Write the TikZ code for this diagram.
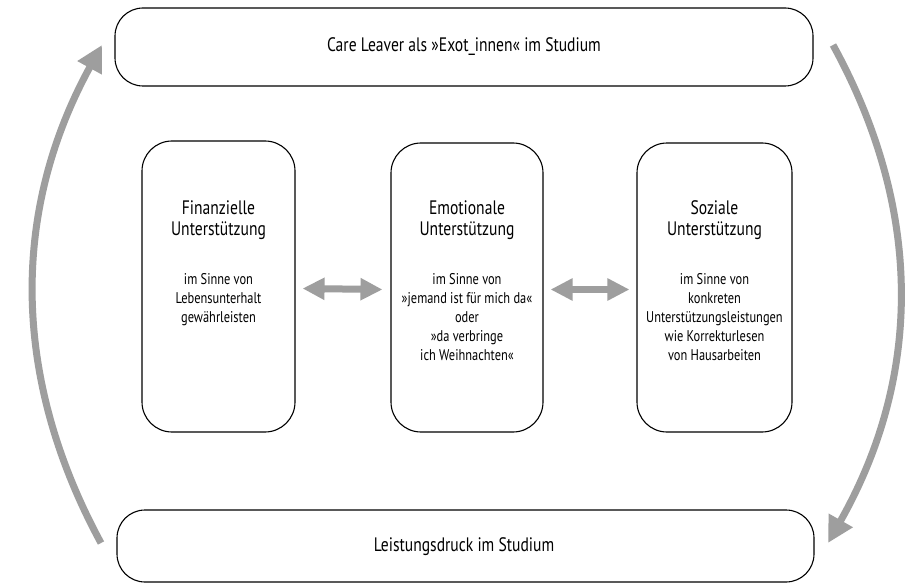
\documentclass[tikz,border=0pt]{standalone}
\usepackage{fontspec}
\setmainfont[FakeStretch=0.8]{PT Sans}
\usetikzlibrary{arrows.meta}
\tikzset{
  bigbox/.style={draw=black, line width=1.1pt, rounded corners=28pt, fill=white},
  colbox/.style={draw=black, line width=1.1pt, rounded corners=30pt, fill=white},
  cyclearrow/.style={draw=arrowgray, line width=7pt, -{Triangle[length=26pt,width=26pt]}},
  duoarrow/.style={draw=arrowgray, line width=7pt, {Triangle[length=22pt,width=21pt]}-{Triangle[length=22pt,width=21pt]}},
  headtxt/.style={align=center, font=\fontsize{19.5pt}{20.5pt}\selectfont, inner sep=0pt},
  bodytxt/.style={align=center, font=\fontsize{15.5pt}{19pt}\selectfont, inner sep=0pt, anchor=north},
  titletxt/.style={font=\fontsize{19.5pt}{20pt}\selectfont, inner sep=0pt}
}
\definecolor{arrowgray}{gray}{0.62}
\begin{document}
\begin{tikzpicture}[x=1pt,y=-1pt]
\useasboundingbox[fill=white] (0,0) rectangle (910,583);
% top and bottom boxes
\draw[bigbox] (115,8) rectangle (813,86);
\node[titletxt] (top) at (464,47) {Care Leaver als »Exot\_innen« im Studium};
\draw[bigbox] (117,510) rectangle (814,582);
\node[titletxt] (bot) at (464,547) {Leistungsdruck im Studium};
% column boxes
\node[colbox, minimum width=153pt, minimum height=291pt] (b1) at (218.5,286.5) {};
\node[colbox, minimum width=152pt, minimum height=289pt] (b2) at (467,287.5) {};
\node[colbox, minimum width=155pt, minimum height=289pt] (b3) at (714.5,287.5) {};
% texts
\node[headtxt] (h1) at (218.5,220) {Finanzielle\\Unterstützung};
\node[headtxt] (h2) at (467,220) {Emotionale\\Unterstützung};
\node[headtxt] (h3) at (714.5,220) {Soziale\\Unterstützung};
\node[bodytxt] (t1) at (218.5,273) {im Sinne von\\Lebensunterhalt\\gewährleisten};
\node[bodytxt] (t2) at (467,273) {im Sinne von\\»jemand ist für mich da«\\oder\\»da verbringe\\ich Weihnachten«};
\node[bodytxt] (t3) at (714.5,273) {im Sinne von\\konkreten\\Unterstützungsleistungen\\wie Korrekturlesen\\von Hausarbeiten};
% double arrows
\draw[duoarrow] ([xshift=7pt,yshift=-2pt]b1.east) -- ([xshift=-8pt,yshift=-2pt]b2.west);
\draw[duoarrow] ([xshift=7pt,yshift=-2pt]b2.east) -- ([xshift=-7pt,yshift=-2pt]b3.west);
% cycle arrows
\coordinate (rs) at (833,45);
\coordinate (re) at (828,543);
\coordinate (ls) at (101,543);
\coordinate (le) at (102,45);
\draw[cyclearrow] (rs) .. controls (924,211) and (922,377) .. (re);
\draw[cyclearrow] (ls) .. controls (11,377) and (11,211) .. (le);
\end{tikzpicture}
\end{document}
